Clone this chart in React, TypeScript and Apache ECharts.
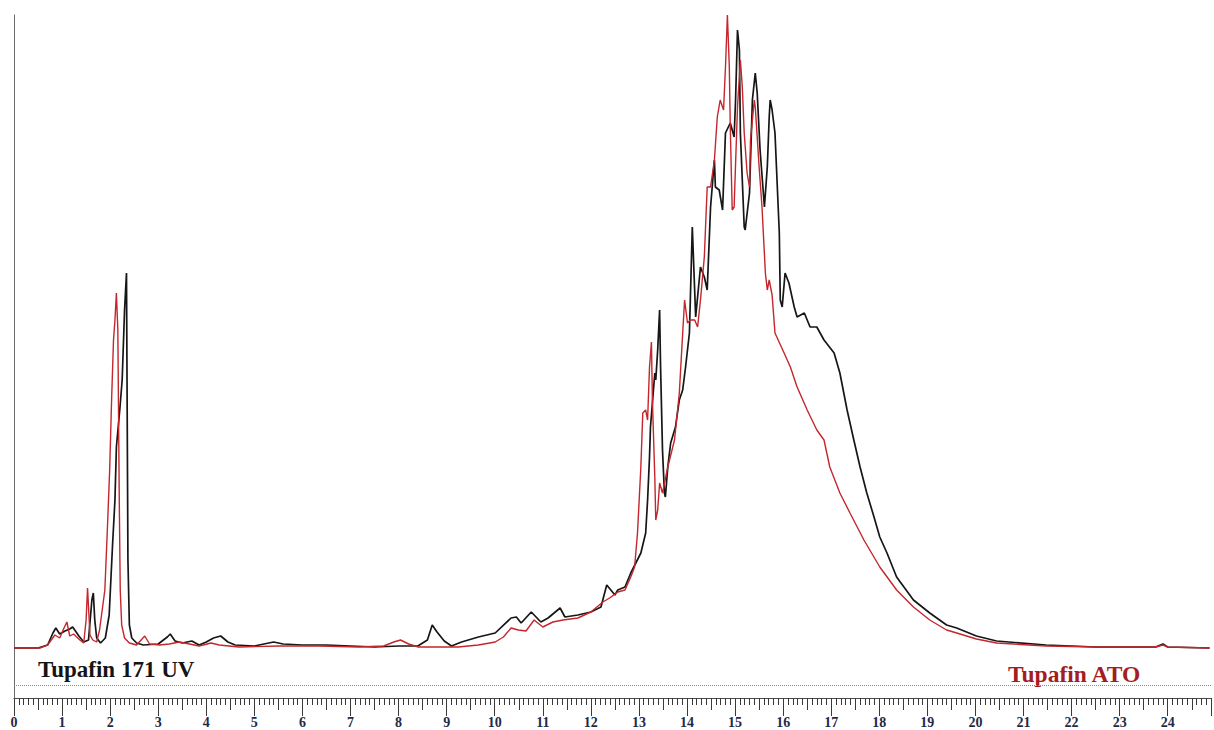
import React, { useEffect, useRef } from "react";
import * as echarts from "echarts";

// Retention time (min) and detector response (arbitrary units)
const uvTimes = [0, 0.5, 0.7, 0.81, 0.87, 0.95, 1.06, 1.16, 1.22, 1.35, 1.45, 1.55, 1.62, 1.65, 1.68, 1.72, 1.8, 1.9, 1.98, 2.05, 2.1, 2.13, 2.2, 2.25, 2.3, 2.34, 2.37, 2.4, 2.45, 2.55, 2.69, 3.0, 3.19, 3.25, 3.35, 3.5, 3.7, 3.85, 4.0, 4.15, 4.3, 4.45, 4.6, 5.0, 5.4, 5.6, 6.0, 6.5, 7.0, 7.5, 8.0, 8.4, 8.6, 8.7, 8.8, 8.95, 9.1, 9.31, 9.66, 10.01, 10.34, 10.45, 10.55, 10.76, 10.96, 11.11, 11.36, 11.46, 11.73, 12.0, 12.21, 12.33, 12.5, 12.56, 12.71, 12.83, 13.04, 13.14, 13.18, 13.22, 13.24, 13.33, 13.35, 13.39, 13.43, 13.45, 13.49, 13.53, 13.55, 13.6, 13.66, 13.76, 13.84, 13.91, 13.97, 14.05, 14.11, 14.18, 14.28, 14.36, 14.42, 14.49, 14.57, 14.59, 14.67, 14.74, 14.8, 14.9, 14.98, 15.01, 15.05, 15.09, 15.11, 15.19, 15.21, 15.3, 15.36, 15.42, 15.46, 15.52, 15.61, 15.67, 15.71, 15.73, 15.77, 15.83, 15.92, 15.94, 15.98, 16.04, 16.12, 16.23, 16.29, 16.44, 16.56, 16.7, 16.85, 17.06, 17.18, 17.33, 17.47, 17.6, 17.74, 17.89, 18.01, 18.16, 18.36, 18.71, 19.05, 19.4, 19.61, 20.02, 20.44, 21.47, 22.51, 23.75, 23.9, 24.0, 24.87];
const uvValues = [0, 0, 3, 15, 20, 14, 17, 19, 21, 12, 6, 8, 48, 55, 28, 10, 5, 10, 33, 103, 148, 201, 238, 268, 338, 375, 88, 23, 10, 5, 3, 4, 11, 14, 7, 5, 7, 3, 6, 10, 12, 6, 3, 2, 6, 4, 3, 3, 2, 1, 2, 2, 8, 23, 16, 7, 2, 6, 11, 15, 30, 31, 25, 36, 26, 30, 40, 31, 33, 36, 41, 63, 53, 58, 61, 75, 95, 115, 148, 191, 221, 275, 268, 298, 338, 281, 198, 155, 151, 181, 205, 221, 248, 258, 281, 315, 421, 331, 381, 371, 358, 441, 488, 461, 458, 438, 515, 525, 511, 548, 618, 598, 515, 421, 418, 455, 548, 575, 555, 498, 441, 481, 531, 548, 538, 515, 415, 348, 341, 375, 365, 341, 331, 335, 321, 321, 308, 295, 275, 238, 208, 181, 155, 131, 111, 95, 71, 48, 35, 23, 20, 12, 7, 3, 1, 1, 4, 1, 0];

const atoTimes = [0, 0.54, 0.7, 0.85, 0.95, 1.04, 1.1, 1.16, 1.24, 1.37, 1.45, 1.5, 1.53, 1.58, 1.64, 1.72, 1.78, 1.89, 1.95, 1.99, 2.03, 2.07, 2.1, 2.13, 2.16, 2.19, 2.21, 2.24, 2.3, 2.4, 2.55, 2.72, 2.82, 3.03, 3.23, 3.44, 3.65, 3.85, 4.1, 4.27, 4.68, 5.51, 6.34, 7.17, 7.69, 7.9, 8.04, 8.21, 8.41, 9.24, 9.66, 10.01, 10.18, 10.34, 10.49, 10.65, 10.82, 11.0, 11.21, 11.42, 11.73, 12.0, 12.25, 12.39, 12.56, 12.71, 12.83, 12.91, 12.97, 13.04, 13.08, 13.14, 13.18, 13.22, 13.26, 13.28, 13.33, 13.35, 13.39, 13.43, 13.49, 13.6, 13.74, 13.84, 13.91, 13.95, 14.01, 14.07, 14.16, 14.22, 14.28, 14.36, 14.42, 14.49, 14.57, 14.63, 14.69, 14.76, 14.8, 14.84, 14.88, 14.9, 14.94, 14.98, 15.05, 15.11, 15.15, 15.19, 15.25, 15.3, 15.32, 15.4, 15.42, 15.5, 15.56, 15.63, 15.67, 15.71, 15.77, 15.83, 16.02, 16.15, 16.29, 16.5, 16.7, 16.85, 16.97, 17.18, 17.39, 17.68, 18.01, 18.36, 18.71, 19.05, 19.4, 19.61, 20.02, 20.44, 21.47, 22.51, 23.75, 23.9, 24.0, 24.87];
const atoValues = [0, 0, 3, 13, 10, 20, 26, 12, 14, 8, 5, 28, 60, 13, 8, 6, 18, 58, 128, 178, 248, 308, 328, 355, 318, 148, 58, 23, 10, 5, 3, 12, 4, 3, 4, 6, 4, 2, 5, 3, 1, 2, 2, 1, 2, 6, 8, 4, 1, 1, 3, 6, 11, 20, 18, 17, 28, 21, 26, 28, 30, 36, 46, 50, 56, 58, 71, 81, 115, 181, 235, 238, 228, 281, 306, 248, 171, 128, 138, 165, 155, 181, 208, 255, 315, 348, 325, 328, 328, 321, 348, 391, 461, 461, 488, 531, 548, 538, 581, 633, 581, 521, 438, 441, 541, 588, 561, 515, 475, 461, 508, 548, 541, 481, 441, 375, 358, 368, 353, 315, 295, 281, 261, 238, 218, 208, 181, 155, 135, 108, 81, 58, 41, 28, 18, 15, 9, 5, 2, 1, 1, 3, 1, 0];

const seriesNames = ["Tupafin 171 UV", "Tupafin ATO"];
const xMin = 0;
const xMax = 24.9;
const yMin = -50;
const yMax = 633;
const dottedLevel = -37;

const toPairs = (ts: number[], vs: number[]) => ts.map((t, i) => [t, vs[i]]);

export default function App() {
  const ref = useRef<HTMLDivElement>(null);
  useEffect(() => {
    if (!ref.current) return;
    const chart = echarts.init(ref.current, null, { renderer: "svg" });
    const tickColor = "#3a3a3a";
    const labelFont = "Liberation Serif";
    const baseAxis = {
      type: "value" as const,
      min: xMin,
      max: xMax,
      position: "bottom" as const,
      offset: 0,
      splitLine: { show: false },
    };
    chart.setOption({
      animation: false,
      backgroundColor: "#ffffff",
      grid: { left: 14, right: -1.4, top: 15, bottom: 32, containLabel: false },
      xAxis: [
        {
          ...baseAxis,
          interval: 1,
          axisLine: { show: true, onZero: false, lineStyle: { color: "#4a4a4a", width: 1 } },
          axisTick: { show: true, length: 18, lineStyle: { color: tickColor, width: 1 } },
          axisLabel: {
            show: true,
            margin: 17,
            fontFamily: labelFont,
            fontWeight: "bold",
            fontSize: 14,
            color: "#1f2a4a",
            formatter: (v: number) => (Math.abs(v - Math.round(v)) < 1e-6 ? String(Math.round(v)) : ""),
          },
        },
        {
          ...baseAxis,
          interval: 0.5,
          axisLine: { show: false, onZero: false },
          axisTick: { show: true, length: 12, lineStyle: { color: tickColor, width: 1 } },
          axisLabel: { show: false },
        },
        {
          ...baseAxis,
          interval: 0.1,
          axisLine: { show: false, onZero: false },
          axisTick: { show: true, length: 7, lineStyle: { color: tickColor, width: 1 } },
          axisLabel: { show: false },
        },
      ],
      yAxis: {
        type: "value",
        min: yMin,
        max: yMax,
        axisLine: { show: true, onZero: false, lineStyle: { color: "#6a6a6a", width: 1 } },
        axisTick: { show: false },
        axisLabel: { show: false },
        splitLine: { show: false },
      },
      series: [
        {
          name: seriesNames[0],
          type: "line",
          data: toPairs(uvTimes, uvValues),
          showSymbol: false,
          symbol: "none",
          lineStyle: { color: "#161616", width: 1.7 },
          z: 2,
          markLine: {
            silent: true,
            symbol: "none",
            label: { show: false },
            lineStyle: { color: "#8a8a8a", type: "dotted", width: 1 },
            data: [{ yAxis: dottedLevel }],
          },
        },
        {
          name: seriesNames[1],
          type: "line",
          data: toPairs(atoTimes, atoValues),
          showSymbol: false,
          symbol: "none",
          lineStyle: { color: "#c4262d", width: 1.4 },
          z: 3,
        },
      ],
      graphic: [
        {
          type: "text",
          left: 38,
          top: 658,
          style: {
            text: seriesNames[0],
            fontFamily: labelFont,
            fontWeight: "bold",
            fontSize: 23,
            fill: "#141414",
          },
        },
        {
          type: "text",
          left: 1008,
          top: 662,
          style: {
            text: seriesNames[1],
            fontFamily: labelFont,
            fontWeight: "bold",
            fontSize: 23.5,
            fill: "#a51c22",
          },
        },
      ],
    });
    return () => chart.dispose();
  }, []);
  return (
    <div
      ref={ref}
      style={{ position: "absolute", left: 0, top: 0, width: 1214, height: 730, background: "#fff" }}
    />
  );
}
